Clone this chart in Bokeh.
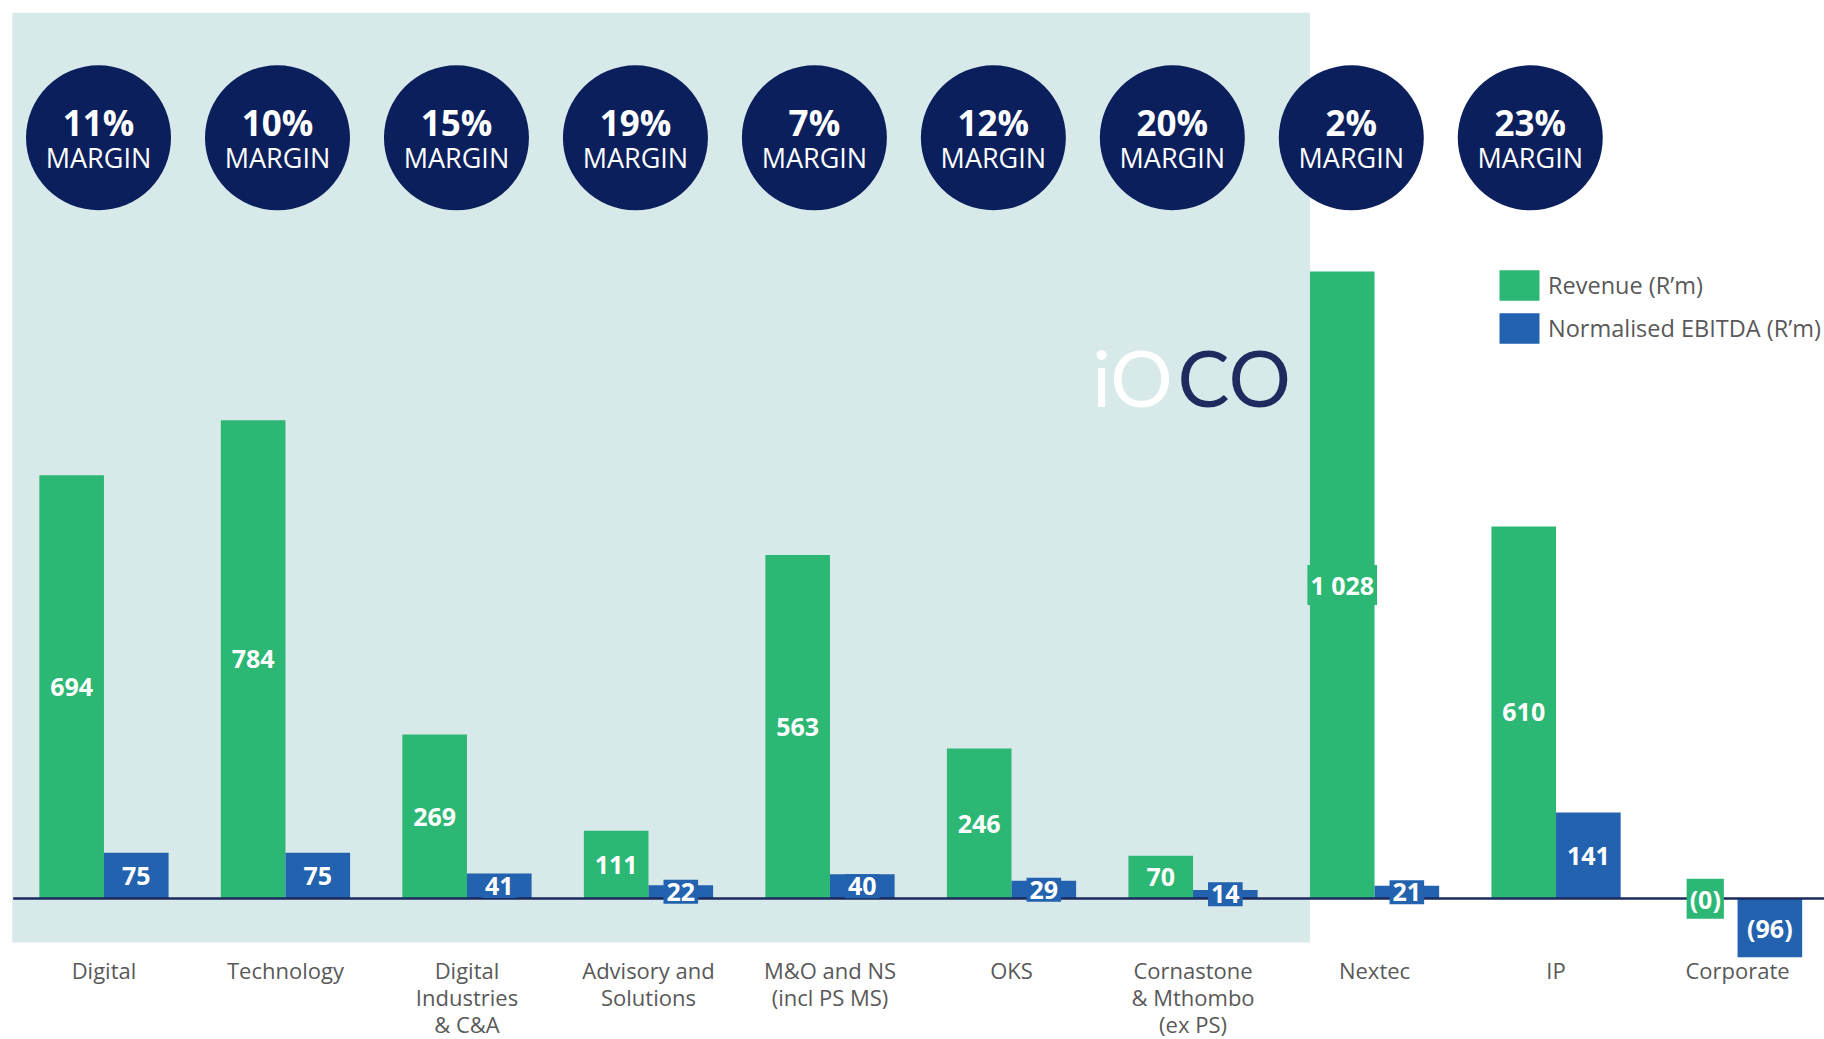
from bokeh.plotting import figure
from bokeh.models import ColumnDataSource, BoxAnnotation, Legend, LegendItem
from bokeh.core.properties import value
from bokeh.embed import file_html
from bokeh.resources import INLINE

categories = ["Digital", "Technology", "Digital\nIndustries\n& C&A", "Advisory and\nSolutions",
              "M&O and NS\n(incl PS MS)", "OKS", "Cornastone\n& Mthombo\n(ex PS)", "Nextec", "IP", "Corporate"]
revenue = [694, 784, 269, 111, 563, 246, 70, 1028, 610, -0.4]
ebitda = [75, 75, 41, 22, 40, 29, 14, 21, 141, -96]
margins = ["11%", "10%", "15%", "19%", "7%", "12%", "20%", "2%", "23%"]

GREEN = "#2CB774"
BLUE = "#2262AE"
NAVY = "#0B1F5C"
LIGHT = "#D8E9E9"
GREY = "#595959"
FONT = value("Open Sans")


def fmt(v):
    if v < 0:
        return f"({abs(round(v))})"
    return f"{round(v):,}".replace(",", " ")


n = len(categories)
idx = list(range(n))
bw = 0.356
src = ColumnDataSource(dict(
    x=idx,
    rx=[i - bw / 2 for i in idx],
    ex=[i + bw / 2 for i in idx],
    rev=revenue,
    ebit=ebitda,
    rmid=[v / 2 for v in revenue],
    emid=[v / 2 for v in ebitda],
    rlab=[fmt(v) for v in revenue],
    elab=[fmt(v) for v in ebitda],
    cat=categories,
))

p = figure(width=1824, height=1039, x_range=(-0.570, 9.479), y_range=(-231, 1472),
           output_backend="svg", toolbar_location=None,
           x_axis_location=None, y_axis_location=None, min_border=0)
p.grid.visible = False
p.outline_line_color = None
p.background_fill_color = "white"
p.border_fill_color = "white"

# shaded panel behind the first seven segments
p.add_layout(BoxAnnotation(left=-0.505, right=7 - bw, bottom=-72, top=1452,
                           fill_color=LIGHT, fill_alpha=1, line_color=None, level="underlay"))

r_rev = p.vbar(x="rx", top="rev", bottom=0, width=bw, source=src, fill_color=GREEN, line_color=None)
r_ebit = p.vbar(x="ex", top="ebit", bottom=0, width=bw, source=src, fill_color=BLUE, line_color=None)

# baseline
p.line(x=[-0.5, 9.6], y=[0, 0], line_color="#1B2A5E", line_width=2.5)

# value labels
p.text(x="rx", y="rmid", text="rlab", source=src, text_align="center", text_baseline="middle",
       text_color="white", text_font=FONT, text_font_style="bold", text_font_size="25px",
       background_fill_color=GREEN, padding=3)
p.text(x="ex", y="emid", text="elab", source=src, text_align="center", text_baseline="middle",
       text_color="white", text_font=FONT, text_font_style="bold", text_font_size="25px",
       background_fill_color=BLUE, padding=3)

# category labels
p.text(x="x", y=0, text="cat", source=src, text_align="center", text_baseline="top",
       y_offset=56, text_color=GREY, text_font=FONT, text_font_size="22px", text_line_height=0.9)

# margin circles
cx = [i * 0.986 - 0.03 for i in range(len(margins))]
cy = [1247] * len(margins)
csrc = ColumnDataSource(dict(x=cx, y=cy, m=margins, t=["MARGIN"] * len(margins)))
p.scatter(x="x", y="y", source=csrc, size=145, fill_color=NAVY, line_color=None)
p.text(x="x", y="y", text="m", source=csrc, text_align="center", text_baseline="middle",
       y_offset=-15, text_color="white", text_font=FONT, text_font_style="bold", text_font_size="35px")
p.text(x="x", y="y", text="t", source=csrc, text_align="center", text_baseline="middle",
       y_offset=20, text_color="white", text_font=FONT, text_font_size="27px")

# iOCO logo
p.text(x=[5.888], y=[855], text=["iO"], text_align="right", text_baseline="alphabetic",
       text_color="white", text_font=value("Lato"), text_font_size="78px")
p.text(x=[5.915], y=[855], text=["CO"], text_align="left", text_baseline="alphabetic",
       text_color="#1F2A5E", text_font=value("Lato"), text_font_size="78px")

legend = Legend(items=[LegendItem(label="Revenue (R\u2019m)", renderers=[r_rev]),
                       LegendItem(label="Normalised EBITDA (R\u2019m)", renderers=[r_ebit])],
                location=(1494, 692), glyph_width=50, glyph_height=38, spacing=5,
                label_text_font="Open Sans", label_text_font_size="23.5px", label_text_color=GREY,
                label_standoff=4, padding=0, margin=0,
                border_line_alpha=0, background_fill_alpha=0)
p.add_layout(legend)

open("out.html", "w").write(file_html(p, INLINE))
